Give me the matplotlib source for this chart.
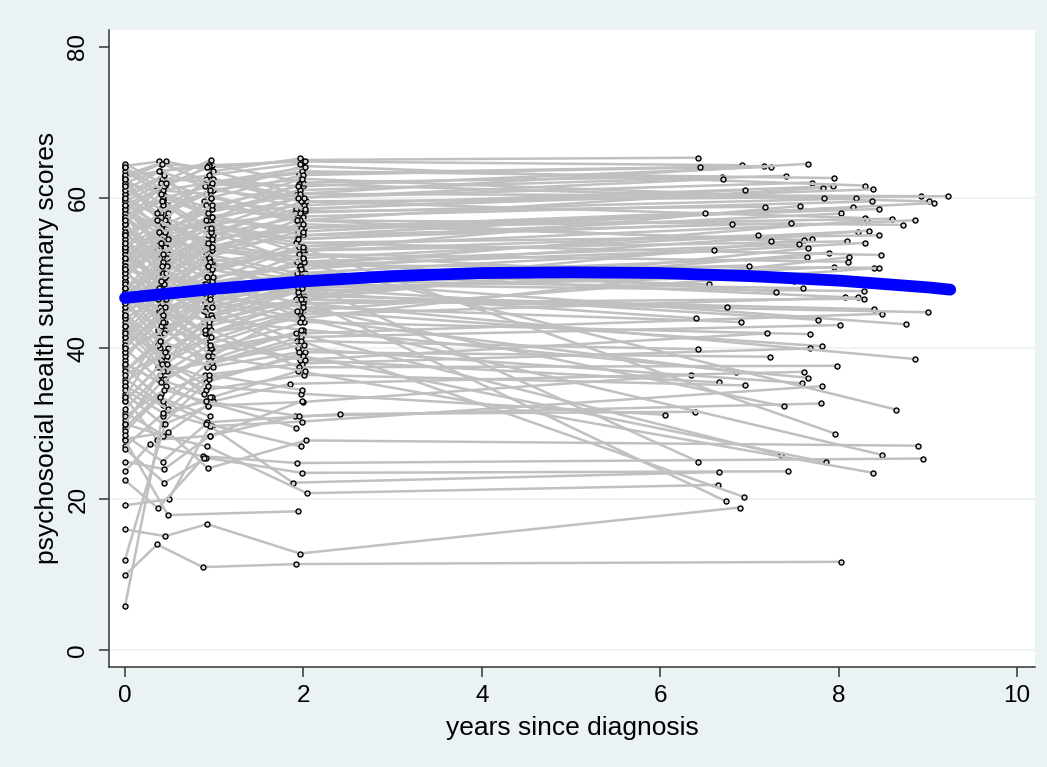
import matplotlib
matplotlib.use("Agg")
import matplotlib.pyplot as plt

plt.rcParams['font.family'] = ['Liberation Sans', 'DejaVu Sans']

# per-subject scores at each wave (None = not measured)
# wave 0 = diagnosis, waves 1-3 = first two years, wave 4 = long-term follow-up
y0 = [
    63.0, 58.5, 64.2, 60.0, 55.0, 62.8, 52.0, 57.5, 61.5, 50.0,
    56.0, 63.5, 47.5, 59.0, 54.5, 60.5, 45.0, 57.0, 53.0, 62.0,
    49.0, 58.0, 42.0, 55.5, 51.5, 60.0, 38.5, 56.5, 48.0, 53.5,
    64.0, 44.0, 52.5, 57.5, 35.0, 50.5, 59.5, 46.5, 54.0, 40.5,
    61.0, 48.5, 55.0, 37.0, 51.0, 58.5, 43.5, 52.0, 33.0, 49.5,
    56.0, 39.5, 47.0, 53.0, 30.5, 45.5, 58.0, 36.0, 50.0, 41.0,
    55.5, 29.5, 47.5, 52.5, 34.0, 44.5, 60.5, 31.5, 46.0, 38.0,
    57.0, 27.0, 51.5, 42.5, 54.0, 33.5, 48.0, 37.5, 45.0, 59.0,
    28.0, 55.0, 50.5, 23.7, 43.0, 53.5, 26.7, 40.0, 19.2, 30.0,
    49.0, 56.5, 16.0, 9.9, 59.5, 53.0, 61.0, 47.0, 62.5, 44.5,
    57.5, 39.0, 51.0, 62.5, 35.5, 48.5, 54.5, 32.0, 46.5, 41.5, 58.0,
    5.8, 12.0, 27.8, 22.5, 25.0, 64.5, 63.0, 64.0, 62.0, 60.0,
    57.5, 55.0, 53.5, 51.0, 49.5, 47.0, 45.5, 43.0, 41.5, 39.5,
    37.0, 35.0, 33.0, 31.0, 29.0, 28.5, 58.5, 56.5, 54.0, 52.0,
    50.0, 48.0, 46.0, 44.0, 42.0, 40.5, 38.0, 36.5, 34.5, 61.5,
    59.0, 62.5, 57.0, 50.5, 46.5, 44.5, 40.0, 33.5, 30.0,
]

t1 = [
    0.40, 0.45, 0.38, 0.41, 0.47, None, 0.36, 0.44, 0.39, 0.43,
    0.48, 0.35, 0.42, 0.46, 0.40, 0.44, 0.37, 0.41, 0.47, 0.43,
    0.39, 0.45, 0.38, 0.42, 0.46, 0.40, 0.36, 0.44, 0.41, 0.47,
    0.43, 0.39, 0.45, 0.42, 0.37, 0.46, 0.40, 0.44, 0.38, 0.43,
    0.48, 0.41, 0.36, 0.45, 0.42, 0.39, 0.46, 0.43, 0.37, 0.44,
    0.40, 0.47, 0.42, 0.38, 0.45, 0.41, 0.36, 0.43, 0.46, 0.39,
    0.44, 0.40, 0.37, 0.45, 0.42, 0.48, 0.38, 0.43, 0.40, 0.46,
    0.41, 0.44, 0.39, 0.47, 0.42, 0.36, 0.45, 0.43, 0.40, 0.44,
    0.48, 0.41, 0.38, 0.28, 0.45, 0.42, 0.44, 0.37, 0.49, 0.43,
    0.40, 0.46, 0.45, 0.36, 0.43, None, 0.39, 0.47, 0.42, 0.38,
    0.45, 0.41, 0.44, 0.37, 0.46, 0.40, 0.43, 0.39, 0.45, 0.42, 0.48,
    0.42, 0.45, 0.48, 0.37, 0.44, 0.40, 0.46, 0.43, 0.38, 0.45,
    0.41, 0.47, 0.36, 0.44, 0.40, 0.42, 0.46, 0.39, 0.43, 0.45,
    0.37, 0.48, 0.41, 0.44, 0.39, 0.42, 0.45, 0.40, 0.43, 0.38,
    0.46, 0.41, 0.44, 0.37, 0.47, 0.43, 0.40, 0.45, 0.42, 0.36,
    0.44, 0.41, 0.46, None, 0.43, 0.40, 0.45, 0.39, 0.47,
]
y1 = [
    64.5, 61.5, 64.8, 62.5, 57.5, None, 55.0, 60.0, 58.5, 54.0,
    52.5, 61.0, 50.0, 56.0, 58.0, 63.0, 49.5, 54.5, 59.0, 60.5,
    46.0, 55.5, 47.0, 57.0, 53.5, 57.5, 44.0, 51.0, 52.5, 56.5,
    60.0, 40.0, 49.0, 59.5, 41.5, 55.0, 56.0, 51.5, 50.5, 45.0,
    58.0, 44.5, 53.0, 42.0, 47.5, 54.0, 38.5, 56.5, 37.5, 53.5,
    52.0, 43.0, 44.0, 49.0, 36.0, 48.5, 51.0, 32.5, 46.0, 45.5,
    50.5, 34.0, 42.5, 48.0, 30.0, 40.0, 55.5, 28.5, 41.0, 35.0,
    49.0, 31.5, 47.0, 37.0, 50.0, 27.9, 43.5, 33.0, 38.5, 52.0,
    28.9, 46.0, 45.0, 27.3, 38.0, 48.5, 22.2, 36.0, 20.0, 28.4,
    43.0, 49.5, 15.1, 14.0, 62.0, None, 63.5, 51.0, 59.0, 48.0,
    53.5, 44.0, 55.0, 57.0, 39.5, 45.0, 50.0, 36.5, 49.5, 46.5, 54.5,
    31.0, 30.0, 17.9, 18.8, 24.0, 62.0, 64.8, 61.0, 63.5, 57.0,
    59.5, 52.0, 57.0, 48.5, 54.0, 43.5, 50.0, 47.5, 37.0, 42.5,
    40.5, 32.0, 38.0, 34.5, 33.5, 25.0, 55.5, 60.5, 51.5, 55.5,
    46.5, 51.0, 42.0, 46.5, 39.0, 44.5, 35.5, 39.5, 31.5, 58.0,
    61.5, 64.5, 62.0, None, 52.5, 49.0, 45.5, 41.0, 38.0,
]

t2 = [
    0.95, 0.97, 0.92, None, 0.98, 0.94, 0.90, 0.96, 0.99, 0.93,
    0.88, 0.95, 0.97, 0.91, 0.99, 0.94, 0.89, 0.96, 0.93, 0.98,
    0.90, 0.95, 0.92, 0.97, 0.94, 0.99, 0.88, 0.96, 0.93, 0.91,
    0.98, 0.95, 0.90, 0.97, 0.92, 0.94, 0.99, 0.89, 0.96, 0.93,
    0.91, 0.97, 0.95, 0.88, 0.94, 0.98, 0.92, 0.96, 0.90, 0.95,
    0.99, 0.93, 0.91, 0.97, 0.94, 0.89, 0.96, 0.92, 0.95, 0.98,
    0.93, 0.90, 0.97, 0.94, 0.91, 0.96, 0.92, 0.99, 0.95, 0.93,
    0.88, 0.97, 0.94, 0.91, 0.96, 0.95, 0.98, 0.92, 0.93, 0.97,
    0.93, 0.90, 0.96, 0.87, 0.94, 0.91, 0.91, 0.97, 0.95, 0.92,
    0.98, 0.93, 0.92, 0.87, 0.96, 0.94, 0.90, 0.97, 0.92, 0.95,
    0.99, 0.93, 0.91, 0.96, 0.94, 0.98, 0.92, 0.95, 0.90, 0.97, 0.93,
    0.95, 0.93, None, 0.88, 0.95, 0.96, 0.99, None, 0.94, 0.91,
    None, 0.97, 0.93, 0.98, None, 0.95, 0.90, 0.96, None, 0.92,
    0.97, 0.94, 0.89, None, 0.95, 0.91, 0.98, 0.93, 0.96, None,
    0.92, 0.97, 0.94, 0.90, 0.96, None, 0.93, 0.99, 0.91, 0.95,
    0.92, 0.97, 0.94, 0.96, 0.91, 0.98, 0.93, 0.95, 0.90,
]
y2 = [
    64.0, 64.3, 62.0, None, 63.5, 64.5, 58.0, 61.5, 62.5, 57.5,
    59.5, 60.5, 55.5, 58.0, 61.0, 57.0, 53.0, 60.0, 55.0, 58.5,
    52.0, 57.0, 50.5, 54.0, 56.5, 55.0, 48.5, 53.5, 50.0, 59.0,
    57.5, 46.0, 54.0, 56.0, 45.5, 52.5, 51.0, 48.0, 55.5, 42.0,
    60.5, 49.0, 50.0, 46.5, 52.0, 56.5, 44.0, 53.5, 41.0, 50.5,
    47.5, 40.5, 48.5, 51.5, 39.5, 43.5, 46.0, 38.0, 44.5, 40.0,
    47.0, 36.5, 45.5, 43.0, 35.5, 42.5, 49.5, 33.0, 38.5, 32.4,
    45.0, 29.7, 41.5, 34.5, 48.0, 28.4, 39.0, 30.2, 35.0, 49.0,
    24.1, 42.0, 40.0, 25.7, 36.0, 46.0, 25.5, 33.5, 29.7, 27.0,
    38.0, 44.5, 16.7, 11.0, 60.0, 57.0, 61.5, 54.5, 56.0, 51.5,
    49.5, 47.5, 52.5, 53.0, 43.5, 48.0, 47.0, 40.5, 45.0, 50.5, 51.0,
    33.5, 32.4, None, 25.5, 28.4, 65.0, 63.5, None, 64.2, 62.5,
    None, 57.5, 54.0, 53.0, None, 47.0, 46.0, 44.5, None, 37.5,
    44.0, 36.5, 34.0, None, 31.0, 30.0, 59.0, 58.0, 55.5, None,
    49.5, 45.5, 48.0, 42.0, 41.5, None, 39.0, 37.5, 33.0, 61.0,
    64.0, 62.0, 63.0, 56.0, 57.0, 53.5, 51.0, 46.5, 42.5,
]

t3 = [
    1.97, 2.02, 1.95, 1.99, 1.93, 2.00, 1.96, 1.98, 1.94, 2.01,
    1.97, 1.99, 1.92, 1.96, 2.03, 1.95, 1.98, 1.91, 2.00, 1.97,
    1.94, 1.99, 1.96, 2.02, 1.93, 1.98, 1.95, 2.01, 1.97, 1.92,
    1.99, 1.96, 2.00, 1.94, 1.98, 1.95, 2.02, 1.97, 1.93, 1.99,
    1.96, 2.01, 1.92, 1.98, 1.95, 2.00, 1.94, 1.97, 1.99, 1.93,
    2.02, 1.96, 1.98, 1.95, 2.00, 1.92, 1.99, 1.97, 1.94, 2.01,
    1.96, 1.98, 1.93, 1.99, 2.02, 1.95, 1.97, 1.85, 2.00, 1.99,
    1.94, 1.98, 1.96, 2.01, 1.93, 1.91, 2.00, 2.41, 1.97, 1.95,
    2.03, 1.98, 1.92, 1.93, 1.99, 1.96, 1.98, 1.94, 1.88, 2.04,
    1.97, 2.01, 1.96, 1.92, 1.99, 1.95, 2.02, 1.97, 1.94, 2.00,
    1.96, 1.98, 1.93, 2.01, 1.97, 1.95, 1.99, 2.02, 1.94, 1.98, 1.96,
    None, None, 1.94, None, 1.98, None, 1.96, 2.02, None, 1.97,
    None, 2.00, None, 1.93, 1.99, None, 1.96, None, 2.01, 1.95,
    None, 1.98, None, 1.92, None, 1.97, 1.94, None, 2.00, 1.96,
    None, 1.99, None, 1.93, None, 1.97, 2.02, None, 1.95, 1.98,
    None, 2.01, 1.96, 1.94, None, 1.99, None, 1.97, None,
]
y3 = [
    65.0, 64.8, 63.2, 61.5, 60.5, 62.0, 61.0, 63.5, 60.0, 59.0,
    57.0, 64.2, 58.5, 60.5, 59.5, 61.8, 55.0, 58.0, 57.5, 62.5,
    55.5, 56.0, 53.0, 58.2, 54.5, 59.5, 51.0, 56.0, 53.5, 57.0,
    55.0, 50.5, 52.0, 54.0, 48.0, 56.5, 53.0, 50.0, 51.5, 46.5,
    57.0, 47.0, 54.0, 44.0, 49.5, 52.5, 47.5, 51.0, 45.0, 48.5,
    50.0, 44.5, 46.0, 47.0, 42.0, 46.5, 49.0, 41.5, 48.0, 43.5,
    45.0, 38.0, 41.0, 46.0, 39.5, 37.5, 44.0, 35.3, 42.5, 32.9,
    40.0, 30.3, 38.5, 36.5, 51.5, 31.0, 45.5, 31.3, 34.0, 53.5,
    27.8, 44.0, 42.0, 24.8, 39.0, 49.0, 23.5, 37.0, 22.2, 20.8,
    41.0, 46.5, 12.8, 11.4, 63.0, 60.0, 58.5, 56.0, 54.5, 53.0,
    51.0, 49.5, 50.0, 51.5, 46.5, 52.5, 45.5, 38.5, 47.5, 48.0, 49.0,
    None, None, 18.4, None, 33.0, None, 65.2, 64.0, None, 59.5,
    None, 55.5, None, 57.0, 52.0, None, 43.5, None, 40.5, 39.5,
    None, 34.5, None, 29.5, None, 27.0, 61.5, None, 53.5, 58.0,
    None, 48.5, None, 45.0, None, 42.5, 37.0, None, 31.0, 62.5,
    None, 60.0, 64.5, 60.0, None, 56.5, None, 50.5, None,
]

# long-term follow-up, only for the first subjects (the rest dropped out)
t4 = [
    6.42, 6.92, 7.16, 7.24, 7.66, 6.69, 7.41, 7.95, 7.70, 7.94,
    7.82, 8.30, 8.38, 8.92, 9.23, 9.01, 9.07, 8.19, 8.37, 7.83,
    8.16, 8.45, 7.57, 7.17, 8.03, 8.29, 8.32, 8.60, 8.85, 8.72,
    7.46, 8.22, 8.34, 8.45, 7.70, 7.61, 8.09, 8.30, 7.55, 7.66,
    7.24, 7.89, 8.47, 8.11, 7.65, 8.10, 7.95, 8.40, 8.45, 8.28,
    8.07, 8.22, 8.28, 8.40, 8.49, 9.00, 8.75, 8.02, 7.77, 7.68,
    7.81, 7.68, 6.42, 8.85, 7.23, 7.98, 6.85, 7.61, 7.66, 6.34,
    7.59, 7.81, 6.66, 6.95, 8.64, 7.80, 7.39, 6.39, 6.05, 7.96,
    8.89, 8.48, 7.35, 8.94, 7.86, 6.42, 7.43, 8.39, 6.66, 6.65,
    6.94, 6.74, 6.89, 8.03, 6.45, 6.70, 6.95, 6.50, 6.80, 7.10,
    6.60, 7.00, 6.55, 7.30, 6.75, 7.50, 6.90, 7.20, 6.40, 7.05, 7.60,
]
y4 = [
    65.3, 64.3, 64.2, 64.1, 64.5, 62.8, 62.9, 62.6, 62.0, 61.5,
    61.3, 61.6, 61.1, 60.2, 60.2, 59.5, 59.3, 59.9, 59.5, 60.0,
    58.7, 58.5, 58.9, 58.8, 57.9, 57.3, 57.0, 57.2, 57.0, 56.4,
    56.6, 55.5, 55.6, 55.0, 54.5, 54.4, 54.2, 54.0, 53.8, 53.3,
    54.3, 52.7, 52.4, 52.1, 52.1, 51.5, 50.8, 50.7, 50.7, 47.6,
    46.8, 46.8, 46.6, 45.2, 44.6, 44.8, 43.2, 43.1, 43.8, 41.9,
    40.3, 40.0, 39.9, 38.6, 38.9, 37.7, 36.9, 36.9, 36.1, 36.5,
    35.4, 35.0, 35.5, 35.1, 31.9, 32.7, 32.3, 31.6, 31.2, 28.7,
    27.1, 25.9, 25.9, 25.4, 24.9, 25.0, 23.7, 23.5, 23.6, 21.9,
    20.3, 19.7, 18.9, 11.7, 64.0, 62.5, 61.0, 58.0, 56.5, 55.0,
    53.0, 51.0, 48.5, 47.5, 45.5, 49.0, 43.5, 42.0, 44.0, 49.5, 48.0,
]

# fitted mean trajectory (blue)
fit_t = [0, 1, 2, 3, 4, 5, 6, 7, 8, 9, 9.25]
fit_y = [46.7, 47.9, 48.9, 49.6, 50.0, 50.1, 50.0, 49.6, 49.0, 48.1, 47.8]

BG = '#eaf2f3'
fig = plt.figure(figsize=(10.47, 7.67), dpi=100, facecolor=BG)
ax = fig.add_axes([0.1041, 0.1304, 0.8844, 0.8311])
ax.set_facecolor('white')

for g in [0, 20, 40, 60]:
    ax.axhline(g, color=BG, lw=1.2, zorder=0)

# one connected line per subject, markers drawn with it (later lines cover them)
for i in range(len(y0)):
    pts = [(0.0, y0[i]), (t1[i], y1[i]), (t2[i], y2[i]), (t3[i], y3[i])]
    if i < len(t4):
        pts.append((t4[i], y4[i]))
    pts = [p for p in pts if p[0] is not None and p[1] is not None]
    ax.plot([p[0] for p in pts], [p[1] for p in pts],
            color='#c0c0c0', lw=1.8, marker='o', ms=3.6,
            mfc='#d8d8d8', mec='black', mew=1.0, zorder=1)

ax.plot(fit_t, fit_y, color='#0000ff', lw=8.5, solid_capstyle='round', zorder=3)

ax.set_xlim(-0.18, 10.20)
ax.set_ylim(-2.25, 82.3)
ax.set_xticks(range(0, 11, 2))
ax.set_yticks(range(0, 81, 20))

for s in ['top', 'right']:
    ax.spines[s].set_visible(False)
for s in ['left', 'bottom']:
    ax.spines[s].set_color('#333333')
    ax.spines[s].set_linewidth(1.1)

ax.tick_params(direction='out', length=7.2, width=1.1, color='#333333',
               labelsize=17.5)
ax.tick_params(axis='x', pad=6)
ax.tick_params(axis='y', pad=7, labelrotation=90)
for lab in ax.get_yticklabels():
    lab.set_va('center')

ax.set_xlabel('years since diagnosis', fontsize=19, labelpad=6)
ax.set_ylabel('psychosocial health summary scores', fontsize=19, labelpad=6)

fig.savefig('out.png', dpi=100, facecolor=BG)
